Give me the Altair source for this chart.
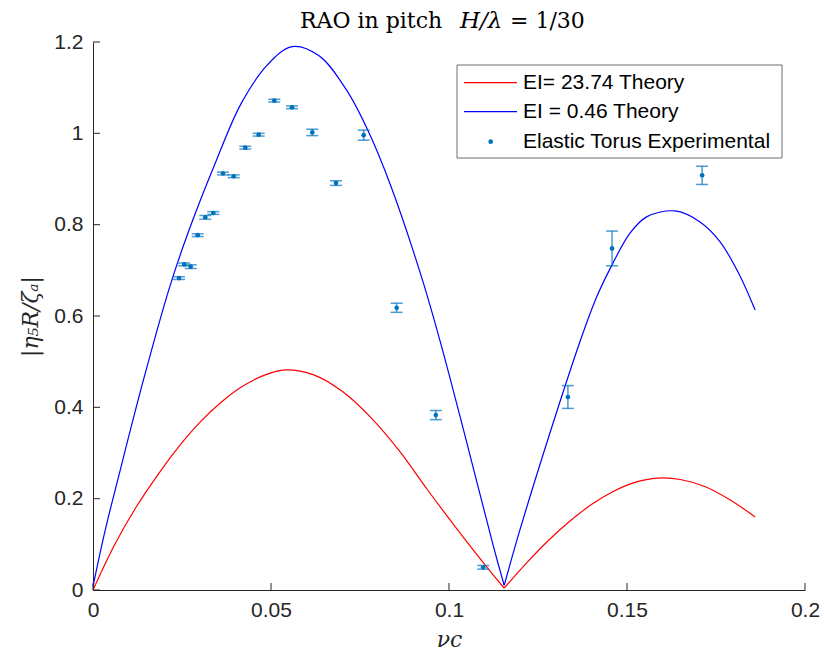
import altair as alt
import pandas as pd

# Experimental points (nu*c, |eta5 R / zeta_a|, half-height of error bar)
exp_x = [0.02416, 0.02564, 0.02744, 0.02940, 0.03155, 0.0338, 0.03652, 0.03951,
         0.04278, 0.04654, 0.05093, 0.0559, 0.0616, 0.06826, 0.07603, 0.0853,
         0.0963, 0.1096, 0.1334, 0.1458, 0.1711]
exp_y = [0.683, 0.713, 0.708, 0.777, 0.816, 0.8255, 0.912, 0.906,
         0.9686, 0.997, 1.0715, 1.057, 1.002, 0.891, 0.996, 0.618,
         0.383, 0.0497, 0.4226, 0.748, 0.908]
exp_err = [0.003, 0.003, 0.004, 0.003, 0.004, 0.003, 0.003, 0.003,
           0.003, 0.003, 0.003, 0.003, 0.007, 0.005, 0.011, 0.010,
           0.010, 0.004, 0.025, 0.038, 0.020]

# Theory, EI = 0.46 (two lobes meeting at the minimum near nu*c = 0.1155)
blue1_x = [0.0, 0.0034, 0.0074, 0.0140, 0.0214, 0.0266, 0.0341, 0.0416, 0.0490,
           0.0559, 0.0635, 0.0712, 0.0773, 0.0834, 0.0921, 0.0975, 0.1031,
           0.1087, 0.1125, 0.1155]
blue1_y = [0.008, 0.130, 0.255, 0.455, 0.660, 0.780, 0.930, 1.065, 1.150,
           1.190, 1.170, 1.095, 1.005, 0.890, 0.690, 0.545, 0.380,
           0.210, 0.095, 0.010]
blue2_x = [0.1155, 0.1199, 0.1280, 0.1368, 0.1415, 0.1458, 0.1508, 0.1555,
           0.1635, 0.1705, 0.1761, 0.1816, 0.1860]
blue2_y = [0.010, 0.131, 0.335, 0.544, 0.642, 0.712, 0.781, 0.817,
           0.830, 0.806, 0.763, 0.690, 0.613]

# Theory, EI = 23.74
red1_x = [0.0, 0.006, 0.012, 0.018, 0.024, 0.030, 0.036, 0.042, 0.048, 0.054,
          0.062, 0.070, 0.078, 0.086, 0.094, 0.102, 0.109, 0.1155]
red1_y = [0.0, 0.098, 0.180, 0.250, 0.313, 0.367, 0.411, 0.446, 0.470, 0.482,
          0.471, 0.435, 0.378, 0.305, 0.219, 0.136, 0.066, 0.004]
red2_x = [0.1155, 0.122, 0.128, 0.134, 0.140, 0.146, 0.152, 0.1587, 0.165,
          0.172, 0.179, 0.186]
red2_y = [0.004, 0.061, 0.109, 0.151, 0.187, 0.215, 0.235, 0.245, 0.242,
          0.226, 0.197, 0.160]

x_ticks = [0, 0.05, 0.1, 0.15, 0.2]
y_ticks = [0, 0.2, 0.4, 0.6, 0.8, 1.0, 1.2]

legend_labels = ["EI= 23.74 Theory", "EI = 0.46 Theory", "Elastic Torus Experimental"]

W, H = 712, 548
AX = "#262626"
EXP = "#0072BD"
SANS = "Liberation Sans"
SERIF = "DejaVu Serif"

xs = alt.Scale(domain=[0, 0.2], nice=False, zero=False)
ys = alt.Scale(domain=[0, 1.2], nice=False, zero=False)

x_axis = alt.Axis(values=x_ticks, format="~g", ticks=False, grid=False,
                  domainColor=AX, labelColor=AX, labelFont=SANS, labelFontSize=21,
                  labelPadding=9, labelFlush=False, title="νc", titleFont=SERIF,
                  titleFontStyle="italic", titleFontWeight="normal",
                  titleFontSize=22, titleColor=AX, titlePadding=9)
y_axis = alt.Axis(values=y_ticks, format="~g", ticks=False, grid=False,
                  domainColor=AX, labelColor=AX, labelFont=SANS, labelFontSize=21,
                  labelPadding=10, labelFlush=False, title="|η₅R/ζₐ|", titleFont=SERIF,
                  titleFontStyle="italic", titleFontWeight="normal",
                  titleFontSize=22, titleColor=AX, titleX=-63, titleY=H / 2,
                  titleAlign="center", titleBaseline="middle", titleAngle=-90)


def X(field):
    return alt.X(field, type="quantitative", scale=xs, axis=x_axis)


def Y(field):
    return alt.Y(field, type="quantitative", scale=ys, axis=y_axis)


def lobes(xa, ya, xb, yb):
    return pd.concat([
        pd.DataFrame({"x": xa, "y": ya, "lobe": "a"}),
        pd.DataFrame({"x": xb, "y": yb, "lobe": "b"}),
    ], ignore_index=True)


exp_df = pd.DataFrame({"x": exp_x, "y": exp_y, "err": exp_err})
exp_df["lo"] = exp_df["y"] - exp_df["err"]
exp_df["hi"] = exp_df["y"] + exp_df["err"]
blue_df = lobes(blue1_x, blue1_y, blue2_x, blue2_y)
red_df = lobes(red1_x, red1_y, red2_x, red2_y)
xt_df = pd.DataFrame({"v": x_ticks})
yt_df = pd.DataFrame({"v": y_ticks})

red = alt.Chart(red_df).mark_line(color="#FF0000", strokeWidth=1.2,
                                  interpolate="catmull-rom").encode(
    x=X("x"), y=Y("y"), detail="lobe:N")
blue = alt.Chart(blue_df).mark_line(color="#0000FF", strokeWidth=1.2,
                                    interpolate="catmull-rom").encode(
    x=X("x"), y=Y("y"), detail="lobe:N")

# inward tick marks
xticks = alt.Chart(xt_df).mark_rule(color=AX, strokeWidth=1).encode(
    x=X("v"), y=alt.value(H), y2=alt.value(H - 7))
yticks = alt.Chart(yt_df).mark_rule(color=AX, strokeWidth=1).encode(
    y=Y("v"), x=alt.value(0), x2=alt.value(7))

ebase = alt.Chart(exp_df)
bars = ebase.mark_rule(color=EXP, strokeWidth=1.5, opacity=0.7).encode(
    x=X("x"), y=Y("lo"), y2="hi:Q")
cap_lo = ebase.mark_rule(color=EXP, strokeWidth=1.5, opacity=0.7,
                         xOffset=-6, x2Offset=6).encode(
    x=X("x"), x2="x:Q", y=Y("lo"))
cap_hi = ebase.mark_rule(color=EXP, strokeWidth=1.5, opacity=0.7,
                         xOffset=-6, x2Offset=6).encode(
    x=X("x"), x2="x:Q", y=Y("hi"))
dots = ebase.mark_circle(color=EXP, size=22, opacity=1).encode(
    x=X("x"), y=Y("y"))

# title with italic H/lambda
one = alt.Data(values=[{}])
t1 = alt.Chart(one).mark_text(text="RAO in pitch", font=SERIF, fontSize=22,
                              align="left", baseline="alphabetic", color="black").encode(
    x=alt.value(207), y=alt.value(-14))
t2 = alt.Chart(one).mark_text(text="H/λ", font=SERIF, fontSize=23, fontStyle="italic",
                              align="left", baseline="alphabetic", color="black").encode(
    x=alt.value(367), y=alt.value(-14))
t3 = alt.Chart(one).mark_text(text="= 1/30", font=SERIF, fontSize=22,
                              align="left", baseline="alphabetic", color="black").encode(
    x=alt.value(417), y=alt.value(-14))

# legend box
lg_box = alt.Chart(one).mark_rect(fill="white", stroke="#6e6e6e", strokeWidth=1).encode(
    x=alt.value(364), x2=alt.value(689), y=alt.value(23), y2=alt.value(116))
row_y = [40.7, 69.7, 99.7]
lg_red = alt.Chart(one).mark_rule(color="#FF0000", strokeWidth=1.2).encode(
    x=alt.value(371), x2=alt.value(424), y=alt.value(row_y[0]))
lg_blue = alt.Chart(one).mark_rule(color="#0000FF", strokeWidth=1.2).encode(
    x=alt.value(371), x2=alt.value(424), y=alt.value(row_y[1]))
lg_dot = alt.Chart(one).mark_circle(color=EXP, size=22, opacity=1).encode(
    x=alt.value(397.7), y=alt.value(row_y[2]))
lg_texts = [
    alt.Chart(one).mark_text(text=lab, font=SANS, fontSize=21, align="left",
                             baseline="middle", color="black").encode(
        x=alt.value(430), y=alt.value(ry))
    for lab, ry in zip(legend_labels, row_y)
]

chart = alt.layer(
    red, blue, bars, cap_lo, cap_hi, dots, xticks, yticks,
    t1, t2, t3, lg_box, lg_red, lg_blue, lg_dot, *lg_texts
).properties(
    width=W, height=H,
    autosize=alt.AutoSizeParams(type="none"),
    padding={"left": 93, "top": 42, "right": 19, "bottom": 65},
    background="white",
).configure_view(stroke=None)

chart.save("out.html", embed_options={"renderer": "svg", "actions": False})
